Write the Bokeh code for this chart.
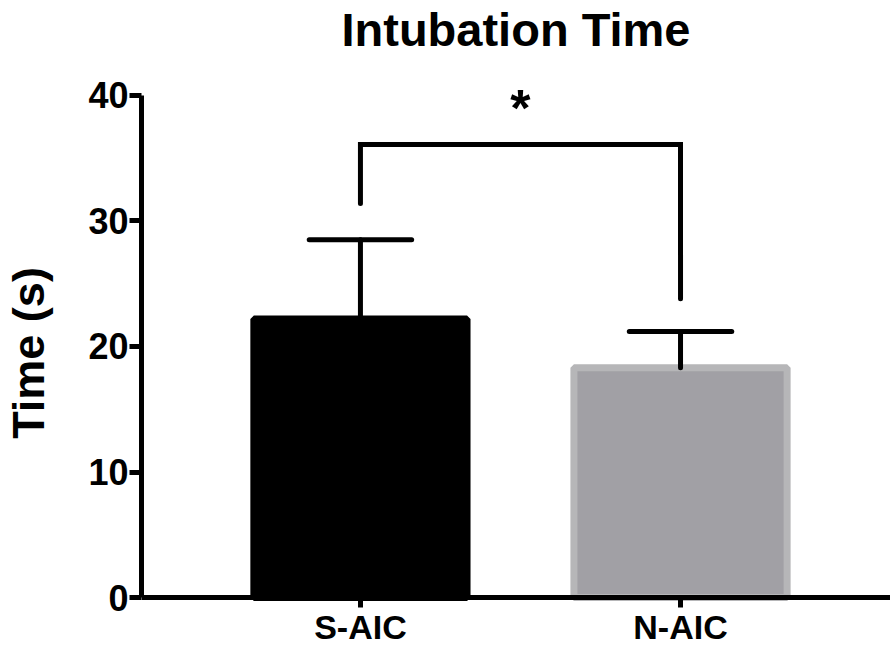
from bokeh.plotting import figure
from bokeh.models import ColumnDataSource, FixedTicker, Range1d, Label
from bokeh.embed import file_html
from bokeh.resources import INLINE

# ---- data ----
groups = ["S-AIC", "N-AIC"]
group_pos = [0, 1]
means = [22.2, 18.3]
sd = [6.3, 2.9]
y_ticks = [0, 10, 20, 30, 40]
y_axis_max = 40
# significance bracket (data units)
bracket_top = 36.1
bracket_left_end = 31.4
bracket_right_end = 23.8
sig_label = "*"
chart_title = "Intubation Time"
y_title = "Time (s)"

FONT = "Liberation Sans"

p = figure(
    width=878, height=643,
    frame_width=749, frame_height=595,
    x_range=Range1d(-0.684, 0.656 + 1),
    y_range=Range1d(-4.223, 43.187),
    output_backend="svg", toolbar_location=None,
    title=chart_title,
    min_border_left=129, min_border_right=0,
    min_border_top=0, min_border_bottom=0,
)
p.outline_line_color = None
p.background_fill_color = "white"
p.border_fill_color = "white"
p.xgrid.visible = False
p.ygrid.visible = False

p.title.text_font = FONT
p.title.text_font_style = "bold"
p.title.text_font_size = "47px"
p.title.align = "center"
p.title.text_color = "black"
p.title.standoff = 0

fill_colors = ["#000000", "#a1a0a5"]
line_colors = ["#000000", "#b6b6b8"]
src = ColumnDataSource(dict(x=group_pos, top=means, fill=fill_colors, line=line_colors))
p.vbar(x="x", top="top", bottom=0, width=0.666, source=src,
       fill_color="fill", line_color="line", line_width=7)

# error bars (upper only)
err_top = [m + s for m, s in zip(means, sd)]
p.segment(x0=group_pos, y0=means, x1=group_pos, y1=err_top,
          line_color="black", line_width=5, line_cap="round")
cap_half = 0.16
p.segment(x0=[x - cap_half for x in group_pos], y0=err_top,
          x1=[x + cap_half for x in group_pos], y1=err_top,
          line_color="black", line_width=5, line_cap="round")

# significance bracket
mid_x = (group_pos[0] + group_pos[1]) / 2
p.line(x=[group_pos[0], group_pos[0], group_pos[1], group_pos[1]],
       y=[bracket_left_end, bracket_top, bracket_top, bracket_right_end],
       line_color="black", line_width=5, line_join="miter", line_cap="round")
star = Label(x=mid_x, y=39.04, text=sig_label,
             text_font=FONT, text_font_style="bold", text_font_size="52px",
             text_align="center", text_baseline="alphabetic", text_color="black")
p.add_layout(star)

# axes
for ax in (p.xaxis[0], p.yaxis[0]):
    ax.axis_line_width = 5
    ax.axis_line_color = "black"
    ax.major_tick_line_width = 5
    ax.major_tick_line_color = "black"
    ax.major_tick_in = 0
    ax.minor_tick_line_color = None
    ax.major_label_text_font = FONT
    ax.major_label_text_font_style = "bold"
    ax.major_label_text_color = "black"

p.xaxis.ticker = FixedTicker(ticks=group_pos)
p.xaxis.major_label_overrides = {g: n for g, n in zip(group_pos, groups)}
p.xaxis.fixed_location = 0
p.xaxis.major_tick_out = 10
p.xaxis.major_label_standoff = 0
p.xaxis.major_label_text_font_size = "34px"

p.yaxis.ticker = FixedTicker(ticks=y_ticks)
p.yaxis.bounds = (0, y_axis_max)
p.yaxis.major_tick_out = 12
p.yaxis.major_label_standoff = 1
p.yaxis.major_label_text_font_size = "36px"
p.yaxis.axis_label = y_title
p.yaxis.axis_label_text_font = FONT
p.yaxis.axis_label_text_font_style = "bold"
p.yaxis.axis_label_text_font_size = "45px"
p.yaxis.axis_label_text_color = "black"
p.yaxis.axis_label_standoff = 31

open("out.html", "w").write(file_html(p, INLINE))
